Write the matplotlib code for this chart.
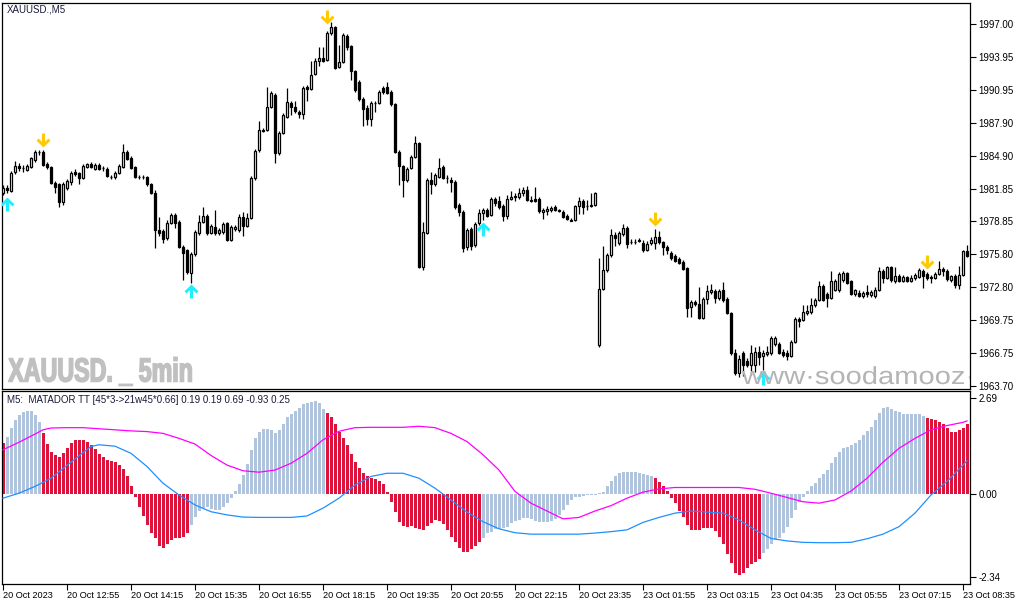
import numpy as np
import matplotlib
matplotlib.use("Agg")
import matplotlib.pyplot as plt
from matplotlib.path import Path
from matplotlib.textpath import TextPath
from matplotlib.patches import PathPatch
from matplotlib.font_manager import FontProperties
from matplotlib.transforms import Affine2D, IdentityTransform

plt.rcParams['font.family'] = ['Liberation Sans', 'DejaVu Sans']

# ---------------- price data (XAUUSD M5) ----------------
opens = [
1981.45,1981.91,1981.64,1983.39,1983.94,1983.75,1983.57,1983.85,1984.49,1985.23,
1985.23,1984.12,1983.85,1982.37,1982.28,1980.63,1981.91,1982.47,1983.39,1983.29,
1982.83,1983.85,1984.12,1983.66,1984.03,1983.75,1983.66,1982.93,1982.93,1983.29,
1983.85,1985.23,1984.67,1983.85,1982.93,1982.93,1982.93,1982.28,1981.45,1978.05,
1977.96,1977.31,1978.69,1979.43,1978.79,1976.49,1976.21,1974.09,1975.84,1977.77,
1978.79,1979.34,1977.77,1978.33,1977.77,1977.87,1978.69,1977.13,1978.14,1978.05,
1979.25,1978.42,1979.15,1982.83,1985.41,1987.25,1987.25,1989.37,1990.47,1985.13,
1986.97,1988.45,1989.73,1989.37,1988.91,1988.72,1991.21,1991.02,1992.40,1993.60,
1993.87,1993.69,1996.17,1996.73,1993.05,1993.51,1995.90,1994.98,1992.68,1991.67,
1990.10,1989.27,1988.26,1989.73,1989.73,1991.11,1991.21,1990.75,1989.64,1985.23,
1983.94,1982.65,1983.75,1984.77,1986.05,1974.65,1977.77,1982.65,1982.28,1982.93,
1983.85,1982.83,1982.65,1982.47,1980.35,1979.71,1976.49,1978.14,1976.67,1978.69,
1979.61,1979.89,1979.43,1980.90,1980.72,1980.26,1979.34,1980.90,1981.18,1981.09,
1981.45,1981.73,1980.81,1980.90,1980.90,1979.71,1979.80,1979.89,1980.17,1979.89,
1979.71,1979.34,1978.97,1978.97,1980.26,1980.72,1980.26,1980.26,1980.35,1967.47,
1972.62,1974.37,1975.75,1977.59,1976.85,1977.68,1978.23,1976.95,1976.95,1977.13,
1976.85,1976.21,1976.85,1976.85,1977.41,1976.95,1976.49,1975.93,1975.66,1975.38,
1975.11,1974.55,1970.97,1971.43,1971.24,1969.95,1971.70,1972.35,1972.44,1971.79,
1972.53,1971.70,1970.41,1966.73,1964.89,1966.73,1966.00,1965.63,1965.63,1966.83,
1966.46,1966.64,1966.73,1967.56,1967.56,1966.83,1966.73,1966.46,1967.75,1969.86,
1969.77,1970.41,1970.51,1971.15,1971.61,1972.90,1972.16,1971.79,1972.53,1972.53,
1973.45,1974.09,1973.36,1972.16,1972.25,1971.98,1972.35,1972.07,1971.98,1972.53,
1974.28,1973.63,1974.65,1973.36,1973.82,1973.36,1973.73,1973.36,1973.63,1973.73,
1974.28,1974.00,1973.73,1973.63,1974.00,1974.46,1974.28,1973.45,1973.82,1972.99,
1973.91,1976.12]

closes = [
1981.91,1981.73,1983.29,1983.94,1983.75,1983.71,1983.94,1984.67,1985.23,1985.18,
1984.03,1983.85,1982.37,1982.01,1980.63,1982.28,1982.56,1983.29,1983.20,1982.83,
1983.94,1984.12,1983.85,1984.03,1983.66,1983.71,1983.02,1982.88,1983.29,1983.94,
1985.23,1984.58,1983.75,1982.93,1982.88,1982.88,1982.28,1981.45,1978.05,1977.77,
1977.22,1978.69,1979.43,1978.69,1976.49,1975.93,1974.19,1975.84,1977.87,1978.79,
1979.34,1977.77,1978.42,1977.77,1978.05,1978.60,1977.13,1978.33,1978.33,1979.25,
1978.42,1979.15,1982.83,1985.32,1987.25,1987.16,1989.37,1990.65,1985.13,1986.97,
1988.63,1989.83,1989.37,1989.00,1988.72,1991.11,1991.02,1992.31,1993.60,1993.87,
1993.60,1996.17,1996.73,1992.95,1993.51,1995.99,1994.89,1992.68,1990.93,1990.10,
1989.18,1988.26,1989.73,1989.69,1990.75,1990.75,1990.65,1989.64,1985.23,1983.94,
1982.65,1983.66,1984.77,1986.05,1974.65,1977.87,1982.65,1982.28,1983.11,1983.75,
1982.83,1982.79,1982.47,1980.17,1979.71,1976.39,1978.05,1976.58,1978.60,1979.61,
1979.89,1979.34,1980.90,1980.53,1980.17,1979.34,1980.90,1981.09,1981.09,1981.45,
1981.73,1980.81,1980.76,1980.72,1979.80,1979.89,1979.98,1980.07,1979.89,1979.84,
1979.25,1979.06,1978.92,1980.26,1980.72,1980.17,1980.21,1980.35,1981.45,1972.62,
1974.37,1975.75,1977.59,1977.31,1977.77,1978.23,1976.76,1976.90,1976.90,1977.08,
1976.21,1976.76,1977.13,1977.41,1976.95,1976.49,1976.21,1975.47,1975.20,1975.01,
1974.46,1970.87,1971.43,1971.24,1969.95,1971.70,1972.44,1972.53,1971.79,1972.44,
1971.61,1970.41,1966.73,1964.89,1966.18,1965.63,1965.63,1966.73,1966.83,1966.37,
1966.73,1966.83,1968.11,1968.11,1966.73,1966.55,1966.46,1967.75,1969.86,1969.68,
1970.51,1970.60,1971.15,1971.61,1972.90,1971.61,1971.79,1973.36,1973.36,1974.00,
1974.09,1973.17,1972.16,1972.53,1971.98,1972.25,1972.16,1972.35,1972.53,1974.28,
1973.63,1974.65,1973.45,1973.82,1973.36,1973.73,1973.36,1973.63,1973.91,1974.37,
1973.82,1973.63,1973.63,1974.00,1974.46,1974.28,1973.54,1973.82,1972.99,1973.91,
1976.12,1975.66]

highs = [
1982.19,1982.19,1983.48,1984.40,1984.21,1984.03,1984.12,1984.77,1985.41,1985.41,
1985.41,1984.31,1983.94,1982.56,1982.37,1982.47,1982.74,1983.48,1983.66,1983.39,
1984.12,1984.21,1984.31,1984.21,1984.21,1983.94,1983.85,1983.11,1983.48,1984.12,
1985.96,1985.41,1984.86,1983.94,1983.11,1983.11,1983.02,1982.37,1981.73,1979.25,
1978.14,1978.97,1979.61,1979.61,1978.97,1976.67,1976.30,1976.03,1978.05,1979.43,
1980.17,1979.52,1978.60,1979.89,1978.23,1978.79,1978.79,1978.51,1978.51,1979.52,
1979.71,1979.61,1983.02,1985.50,1988.08,1987.43,1991.21,1990.84,1990.65,1987.16,
1988.81,1991.11,1989.92,1989.92,1989.09,1991.30,1991.39,1993.60,1993.87,1994.89,
1994.89,1996.36,1997.19,1996.82,1995.07,1996.17,1996.08,1995.07,1992.77,1991.85,
1990.29,1989.55,1989.92,1989.92,1990.93,1991.30,1991.67,1990.93,1989.73,1985.41,
1984.03,1983.85,1984.95,1986.70,1986.15,1978.79,1982.83,1983.39,1983.29,1984.67,
1984.03,1983.11,1982.93,1982.65,1980.53,1979.89,1978.23,1978.33,1978.79,1979.98,
1980.07,1980.07,1981.09,1981.09,1981.18,1980.44,1981.27,1981.64,1981.45,1981.91,
1982.01,1982.10,1981.18,1982.01,1981.09,1980.07,1980.26,1980.26,1980.35,1979.98,
1979.89,1979.52,1979.15,1980.35,1981.09,1980.90,1980.81,1981.45,1981.55,1975.47,
1976.58,1975.93,1978.14,1977.87,1977.96,1978.60,1978.42,1977.22,1977.22,1977.31,
1977.13,1977.04,1977.41,1978.14,1977.96,1977.04,1976.67,1976.12,1975.84,1975.57,
1975.29,1974.65,1971.61,1971.61,1972.81,1971.89,1972.99,1973.08,1972.62,1972.62,
1973.27,1971.89,1970.51,1967.11,1966.55,1966.92,1966.27,1967.47,1967.29,1967.38,
1967.01,1967.38,1968.30,1968.30,1967.75,1967.11,1967.01,1967.93,1970.05,1970.05,
1971.15,1971.15,1971.79,1971.79,1973.36,1973.08,1972.35,1974.28,1973.54,1974.19,
1974.28,1974.19,1973.45,1972.62,1972.53,1972.44,1972.99,1972.53,1972.81,1974.65,
1974.46,1974.74,1974.74,1974.65,1974.00,1973.91,1973.82,1973.91,1974.09,1974.55,
1974.46,1974.19,1973.91,1974.19,1975.20,1974.65,1974.46,1973.91,1974.00,1974.74,
1976.21,1976.67]

lows = [
1981.27,1981.45,1981.55,1983.20,1983.48,1983.39,1983.48,1983.75,1984.31,1984.95,
1983.94,1983.66,1982.28,1981.45,1980.17,1980.35,1981.73,1982.19,1983.02,1982.28,
1982.74,1983.75,1983.75,1983.57,1983.57,1983.48,1982.93,1982.74,1982.74,1983.20,
1983.75,1984.49,1983.66,1982.83,1982.74,1982.74,1982.10,1981.36,1976.39,1977.50,
1976.85,1977.13,1978.60,1978.23,1976.39,1973.45,1974.00,1973.17,1975.66,1977.59,
1978.69,1977.59,1977.68,1977.59,1977.59,1977.68,1977.04,1977.04,1977.96,1977.87,
1977.50,1978.33,1979.06,1982.65,1985.23,1987.07,1987.16,1989.27,1984.21,1984.95,
1986.88,1988.35,1988.63,1988.81,1988.35,1988.26,1989.92,1990.93,1992.31,1993.14,
1993.51,1993.60,1995.99,1992.86,1992.95,1993.41,1994.61,1991.85,1990.75,1989.92,
1987.62,1987.71,1987.62,1988.91,1989.64,1990.56,1990.56,1989.46,1985.13,1982.19,
1981.09,1982.47,1983.66,1984.67,1974.55,1974.37,1977.68,1981.36,1982.10,1982.83,
1982.74,1982.37,1981.55,1979.98,1979.34,1976.03,1976.21,1976.21,1976.49,1978.51,
1978.97,1979.25,1979.34,1980.26,1979.98,1978.88,1979.06,1980.81,1980.72,1980.90,
1981.18,1980.72,1980.63,1980.63,1979.61,1979.06,1979.43,1979.71,1979.80,1979.71,
1979.15,1978.97,1978.88,1978.88,1979.52,1979.52,1979.89,1980.17,1980.26,1967.29,
1972.53,1974.19,1975.57,1976.58,1976.67,1977.50,1976.39,1976.76,1976.76,1976.95,
1976.03,1976.12,1976.67,1976.30,1976.76,1975.75,1975.84,1975.29,1975.11,1974.92,
1974.37,1970.05,1970.05,1971.06,1969.86,1969.86,1971.24,1972.16,1971.33,1971.61,
1971.43,1970.32,1966.55,1964.71,1964.53,1964.62,1965.45,1964.71,1964.99,1965.63,
1965.17,1966.46,1966.55,1967.38,1966.64,1966.37,1966.09,1966.37,1967.65,1969.13,
1969.68,1970.23,1970.32,1970.97,1971.52,1971.52,1970.97,1971.70,1972.44,1972.35,
1973.27,1973.08,1972.07,1971.98,1971.89,1971.79,1971.89,1971.89,1971.79,1972.44,
1973.17,1973.54,1973.27,1973.17,1973.27,1973.27,1973.27,1973.27,1973.45,1973.63,
1972.71,1973.45,1973.17,1973.54,1973.91,1973.82,1973.36,1973.27,1972.71,1972.62,
1973.82,1975.57]

# signal arrows: bar index and price level
sell_bars = [10, 81, 163, 231]
sell_prices = [1986.33, 1997.60, 1979.06, 1975.06]
buy_bars = [1, 47, 120, 190]
buy_prices = [1980.40, 1972.44, 1978.10, 1964.40]

# ---------------- indicator data (MATADOR TT) ----------------
hist = [
1.44,1.61,1.84,2.08,2.22,2.29,2.33,2.33,2.22,2.03,
1.72,1.40,1.19,1.08,1.04,1.14,1.30,1.42,1.52,1.52,
1.52,1.47,1.38,1.26,1.12,1.05,0.96,0.93,0.89,0.81,
0.69,0.51,0.23,-0.10,-0.38,-0.62,-0.87,-1.10,-1.25,-1.46,
-1.51,-1.41,-1.29,-1.25,-1.23,-1.20,-1.09,-0.87,-0.64,-0.48,
-0.40,-0.38,-0.42,-0.45,-0.45,-0.38,-0.26,-0.12,0.07,0.27,
0.53,0.84,1.24,1.58,1.75,1.83,1.83,1.80,1.70,1.80,
1.96,2.15,2.24,2.33,2.42,2.52,2.56,2.59,2.61,2.55,
2.39,2.27,2.15,1.96,1.75,1.58,1.38,1.12,0.91,0.74,
0.58,0.51,0.46,0.42,0.37,0.27,0.05,-0.23,-0.51,-0.78,
-0.90,-0.92,-0.90,-0.95,-0.98,-1.01,-0.90,-0.81,-0.73,-0.76,
-0.85,-1.01,-1.20,-1.36,-1.51,-1.62,-1.64,-1.54,-1.45,-1.34,
-1.23,-1.10,-1.06,-0.98,-0.98,-0.97,-0.92,-0.82,-0.76,-0.73,
-0.68,-0.68,-0.70,-0.76,-0.78,-0.80,-0.80,-0.76,-0.70,-0.59,
-0.45,-0.31,-0.17,-0.10,-0.08,-0.05,-0.03,-0.03,-0.03,0.02,
0.05,0.21,0.37,0.49,0.58,0.61,0.61,0.61,0.61,0.58,
0.55,0.53,0.49,0.44,0.33,0.21,0.07,-0.12,-0.26,-0.48,
-0.66,-0.87,-1.01,-1.01,-1.01,-0.96,-0.95,-0.96,-1.04,-1.20,
-1.41,-1.69,-1.95,-2.23,-2.29,-2.23,-2.09,-1.97,-1.90,-1.83,
-1.67,-1.54,-1.41,-1.29,-1.25,-1.10,-0.92,-0.68,-0.45,-0.22,
-0.08,0.07,0.21,0.32,0.44,0.55,0.67,0.86,1.05,1.19,
1.28,1.33,1.36,1.42,1.52,1.66,1.77,1.89,2.08,2.27,
2.42,2.45,2.39,2.33,2.29,2.25,2.25,2.25,2.25,2.24,
2.20,2.14,2.11,2.08,2.03,1.96,1.86,1.75,1.75,1.80,
1.86,1.96]

# bar ranges (inclusive) drawn in red; all others light steel blue
red_ranges = [(0, 0), (10, 46), (81, 119), (163, 189), (231, 241)]

signal_x = [0,4,8,10,12,16,20,24,28,32,36,40,44,48,52,56,60,64,68,72,76,80,84,88,92,96,
            100,104,108,112,116,120,124,128,132,136,140,144,148,152,156,160,164,168,172,
            176,180,184,188,192,196,200,204,208,212,216,220,224,228,232,236,240,241]
signal_v = [1.24,1.45,1.68,1.80,1.85,1.86,1.86,1.83,1.80,1.77,1.75,1.70,1.56,1.40,1.08,0.81,
            0.65,0.61,0.67,0.86,1.14,1.52,1.76,1.86,1.87,1.87,1.87,1.90,1.86,1.70,1.47,1.10,
            0.67,0.07,-0.26,-0.48,-0.70,-0.66,-0.48,-0.33,-0.12,0.05,0.14,0.18,0.18,0.18,
            0.18,0.18,0.13,0.02,-0.10,-0.22,-0.26,-0.17,0.08,0.44,0.89,1.28,1.56,1.80,1.92,
            2.01,2.05]

trend_x = [0,4,8,12,16,20,22,24,28,32,36,40,44,48,52,56,60,64,68,72,76,80,84,88,92,96,100,
           104,108,112,116,120,124,128,132,136,140,144,148,152,156,160,164,168,172,176,180,
           184,188,192,196,200,204,208,212,216,220,224,228,232,236,240,241]
trend_v = [-0.12,0.02,0.21,0.44,0.80,1.16,1.33,1.38,1.34,1.14,0.77,0.30,-0.03,-0.31,-0.50,
           -0.59,-0.65,-0.66,-0.66,-0.66,-0.62,-0.40,-0.12,0.25,0.49,0.58,0.58,0.44,0.16,
           -0.17,-0.51,-0.78,-0.98,-1.09,-1.13,-1.13,-1.13,-1.13,-1.10,-1.06,-1.01,-0.80,
           -0.66,-0.54,-0.48,-0.51,-0.54,-0.73,-1.01,-1.25,-1.32,-1.36,-1.37,-1.37,-1.36,
           -1.26,-1.13,-0.92,-0.54,-0.03,0.35,0.81,0.93]

price_ticks = [1997.00, 1993.95, 1990.95, 1987.90, 1984.90, 1981.85,
               1978.85, 1975.80, 1972.80, 1969.75, 1966.75, 1963.70]
ind_ticks = [2.69, 0.00, -2.34]
time_tick_bars = [0,16,32,48,64,80,96,112,128,144,160,176,192,208,224,240]
time_labels = ["20 Oct 2023", "20 Oct 12:55", "20 Oct 14:15", "20 Oct 15:35",
               "20 Oct 16:55", "20 Oct 18:15", "20 Oct 19:35", "20 Oct 20:55",
               "20 Oct 22:15", "20 Oct 23:35", "23 Oct 01:55", "23 Oct 03:15",
               "23 Oct 04:35", "23 Oct 05:55", "23 Oct 07:15", "23 Oct 08:35"]

# ---------------- figure ----------------
W, H = 1015, 605
fig = plt.figure(figsize=(W / 100, H / 100), dpi=100)
fig.patch.set_facecolor('white')
ax1 = fig.add_axes([2 / W, 1 - 389 / H, 968 / W, 386 / H])
ax2 = fig.add_axes([2 / W, 1 - 584 / H, 968 / W, 193 / H])

n = len(opens)
x = np.arange(n)
o = np.array(opens); c = np.array(closes)
hi = np.maximum(np.array(highs), np.maximum(o, c))
lo = np.minimum(np.array(lows), np.minimum(o, c))

ax1.vlines(x, lo, hi, color='black', linewidth=0.9, zorder=2)
bull = c >= o
body_h = np.maximum(np.abs(c - o), 0.015)
ax1.bar(x, body_h, bottom=np.minimum(o, c), width=0.5,
        color=np.where(bull, 'white', 'black'), edgecolor='black',
        linewidth=0.9, zorder=3)

# arrow markers
dn = Path([(-0.22, 1), (0.22, 1), (0.22, -0.2), (0.7, 0.28), (1.0, -0.02), (0, -1),
           (-1.0, -0.02), (-0.7, 0.28), (-0.22, -0.2), (-0.22, 1)],
          [Path.MOVETO] + [Path.LINETO] * 8 + [Path.CLOSEPOLY])
up = Path([(vx, -vy) for vx, vy in dn.vertices], dn.codes)
ax1.plot(sell_bars, sell_prices, linestyle='none', marker=dn, markersize=10,
         color='#FFC800', markeredgewidth=0, zorder=4)
ax1.plot(buy_bars, buy_prices, linestyle='none', marker=up, markersize=10,
         color='#1EEFFF', markeredgewidth=0, zorder=4)

ax1.set_xlim(-0.25, 241.75)
ax1.set_ylim(1963.42, 1998.93)
ax1.yaxis.tick_right()
ax1.set_yticks(price_ticks)
ax1.set_yticklabels([f'{v:.2f}' for v in price_ticks])
ax1.set_xticks([])
ax1.tick_params(axis='y', length=4, width=0.8, pad=2, labelsize=7, colors='black')

# indicator
colors = ['#B0C4DE'] * n
for a, b in red_ranges:
    for i in range(a, b + 1):
        colors[i] = '#DC143C'
ax2.bar(x, hist, width=0.75, color=colors, linewidth=0, zorder=2)
ax2.plot(signal_x, signal_v, color='#FF00FF', linewidth=0.9, zorder=3)
ax2.plot(trend_x, trend_v, color='#1E90FF', linewidth=0.9, zorder=3)
ax2.set_xlim(-0.25, 241.75)
ax2.set_ylim(-2.53, 2.89)
ax2.yaxis.tick_right()
ax2.set_yticks(ind_ticks)
ax2.set_yticklabels([f'{v:.2f}' for v in ind_ticks])
ax2.set_xticks(time_tick_bars)
ax2.set_xticklabels(time_labels, ha='left')
ax2.tick_params(axis='y', length=4, width=0.8, pad=2, labelsize=7, colors='black')
ax2.tick_params(axis='x', length=4, width=0.8, pad=1, labelsize=6.6, colors='black')

for ax in (ax1, ax2):
    for s in ax.spines.values():
        s.set_linewidth(0.9)
        s.set_color('black')

# texts
fig.text(7 / W, 1 - 10 / H, 'XAUUSD.,M5', fontsize=7, color='#1a1a3a',
         va='center', ha='left')
fig.text(7 / W, 1 - 400 / H, 'M5:  MATADOR TT [45*3->21w45*0.66] 0.19 0.19 0.69 -0.93 0.25',
         fontsize=7, color='#1a1a3a', va='center', ha='left')


def fitted_text(ax, s, ref_s, hchar, prop, x_left, x_right, baseline, hpx, color, z, stroke):
    tp = TextPath((0, 0), s, size=100, prop=prop)
    rb = TextPath((0, 0), ref_s, size=100, prop=prop).get_extents()
    hb = TextPath((0, 0), hchar, size=100, prop=prop).get_extents()
    sx = (x_right - x_left) / (rb.x1 - rb.x0)
    sy = hpx / hb.y1
    tr = Affine2D().translate(-rb.x0, 0).scale(sx, sy).translate(x_left, H - baseline)
    patch = PathPatch(tr.transform_path(tp), facecolor=color, edgecolor=color,
                      linewidth=stroke, transform=IdentityTransform(), zorder=z)
    ax.add_artist(patch)


fitted_text(ax1, 'XAUUSD. _ 5min', 'XAUUSD. _ 5min', 'X',
            FontProperties(family='Liberation Sans', weight='bold'),
            8.5, 191.5, 381.5, 23, '#c0c0c0', 5, 1.1)
fitted_text(ax1, 'www\u00b7soodamooz\u00b7com', 'www\u00b7soodamooz', 'x',
            FontProperties(family='Liberation Sans'),
            742, 964, 384, 13, '#b4b4b4', 5, 0)

fig.savefig('out.png', dpi=100, facecolor='white')
